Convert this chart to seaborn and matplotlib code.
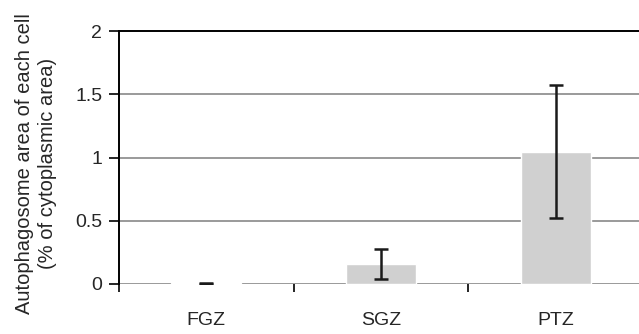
import numpy as np
import pandas as pd
import matplotlib
matplotlib.use("Agg")
import matplotlib.pyplot as plt
import seaborn as sns

# datos del grafico
zonas = ["FGZ", "SGZ", "PTZ"]
valores = [0.005, 0.16, 1.045]
errores = [0.003, 0.12, 0.525]

df = pd.DataFrame({"zona": zonas, "valor": valores})

sns.set_style("white")
plt.rcParams["font.family"] = ["Liberation Sans", "DejaVu Sans"]

fig = plt.figure(figsize=(6.39, 3.34), dpi=100)
ax = fig.add_axes([119 / 639, 50 / 334, 524 / 639, 253 / 334])

# lineas de la grilla
for y in [0, 0.5, 1, 1.5]:
    ax.axhline(y, color="#9a9a9a", lw=1.4, zorder=0)

sns.barplot(data=df, x="zona", y="valor", color="#d0d0d0", width=0.4,
            errorbar=None, saturation=1, ax=ax, zorder=2)
ax.errorbar(np.arange(len(zonas)), valores, yerr=errores, fmt="none",
            ecolor="#1a1a1a", elinewidth=1.8, capsize=5, capthick=1.8, zorder=3)

ax.set_xlim(-0.5, 2.5)
ax.set_ylim(0, 2)
ax.set_yticks([0, 0.5, 1, 1.5, 2])
ax.set_yticklabels(["0", "0.5", "1", "1.5", "2"], fontsize=14)
ax.set_xticks([0, 1, 2])
ax.set_xticklabels(zonas, fontsize=14)
ax.set_xticks([-0.5, 0.5, 1.5, 2.5], minor=True)
ax.tick_params(axis="x", which="major", length=0, pad=20)
ax.tick_params(axis="x", which="minor", length=6, width=1.2, color="black",
               direction="out", bottom=True)
ax.tick_params(axis="y", length=7, width=1.2, color="black", direction="out",
               left=True, pad=5)

ax.set_xlabel("")
ax.set_ylabel("Autophagosome area of each cell\n(% of cytoplasmic area)",
              fontsize=14.5, linespacing=1.25)
ax.yaxis.set_label_coords(-0.118, 0.478)

for s in ["left", "top"]:
    ax.spines[s].set_color("black")
    ax.spines[s].set_linewidth(1.4)
ax.spines["right"].set_visible(False)
ax.spines["bottom"].set_visible(False)

fig.savefig("out.png", dpi=100)
